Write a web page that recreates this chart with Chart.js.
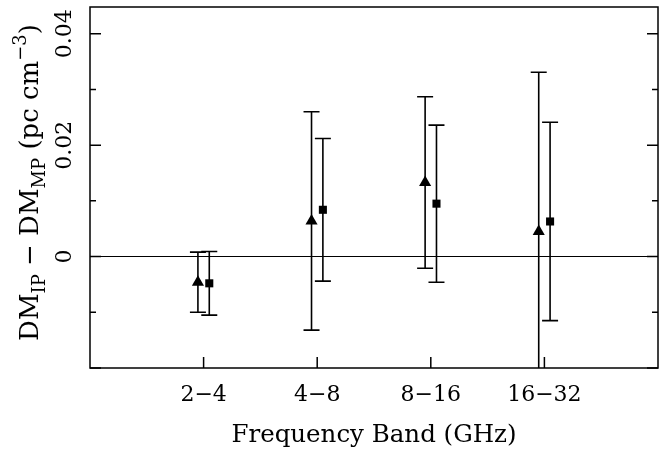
<!DOCTYPE html>
<html>
<head>
<meta charset="utf-8">
<script src="https://cdn.jsdelivr.net/npm/chart.js@4.4.1/dist/chart.umd.min.js"></script>
<style>
  html, body { margin: 0; background: #fff; }
  #wrap { width: 670px; height: 453px; }
</style>
</head>
<body>
<div id="wrap"><canvas id="dm-chart"></canvas></div>
<script>
// frequency bands and their slot on the x axis
const bands = ['2\u22124', '4\u22128', '8\u221216', '16\u221232'];
const bandPos = [1, 2, 3, 4];
const shift = 0.05;

// triangles
const triValues = [-0.0046, 0.0064, 0.0133, 0.0045];
const triErrors = [0.0054, 0.0196, 0.0154, 0.0286];
// squares
const sqValues = [-0.0048, 0.0084, 0.0095, 0.0063];
const sqErrors = [0.0057, 0.0128, 0.0141, 0.0178];

const yLabelled = [0, 0.02, 0.04];

Chart.defaults.font.family = "'DejaVu Serif', serif";
Chart.defaults.color = '#000';

function points(values, errors, dx) {
  return values.map((v, i) => ({ x: bandPos[i] + dx, y: v, err: errors[i] }));
}

const errorBars = {
  id: 'errorBars',
  beforeDatasetsDraw(chart) {
    const { ctx, chartArea, scales: { x, y } } = chart;
    ctx.save();
    ctx.beginPath();
    ctx.rect(chartArea.left, chartArea.top, chartArea.right - chartArea.left, chartArea.bottom - chartArea.top);
    ctx.clip();
    ctx.strokeStyle = '#000';
    ctx.lineWidth = 1.6;
    chart.data.datasets.forEach(ds => {
      ds.data.forEach(p => {
        const px = x.getPixelForValue(p.x);
        const top = y.getPixelForValue(p.y + p.err);
        const bot = y.getPixelForValue(p.y - p.err);
        ctx.beginPath();
        ctx.moveTo(px, top); ctx.lineTo(px, bot);
        ctx.moveTo(px - 8, top); ctx.lineTo(px + 8, top);
        ctx.moveTo(px - 8, bot); ctx.lineTo(px + 8, bot);
        ctx.stroke();
      });
    });
    ctx.restore();
  }
};

const frame = {
  id: 'frame',
  afterDraw(chart) {
    const { ctx, chartArea: a, scales: { x, y } } = chart;
    ctx.save();
    ctx.strokeStyle = '#000';
    ctx.lineWidth = 1.5;
    ctx.strokeRect(a.left, a.top, a.right - a.left, a.bottom - a.top);
    ctx.beginPath();
    bandPos.forEach(v => {
      const px = x.getPixelForValue(v);
      ctx.moveTo(px, a.bottom); ctx.lineTo(px, a.bottom - 11);
    });
    y.ticks.forEach(t => {
      const k = Math.round(t.value * 100);
      if (Math.abs(t.value * 100 - k) > 1e-6) return;
      const len = k % 2 === 0 ? 11 : 6;
      const py = y.getPixelForValue(t.value);
      ctx.moveTo(a.left, py); ctx.lineTo(a.left + len, py);
      ctx.moveTo(a.right, py); ctx.lineTo(a.right - len, py);
    });
    ctx.stroke();

    // y axis title with sub/superscripts
    const big = "26px 'DejaVu Serif'";
    const small = "18px 'DejaVu Serif'";
    const parts = [
      ['DM', big, 0], ['IP', small, 7], [' \u2212 DM', big, 0], ['MP', small, 7],
      [' (pc cm', big, 0], ['\u22123', small, -12], [')', big, 0]
    ];
    let total = 0;
    parts.forEach(p => { ctx.font = p[1]; total += ctx.measureText(p[0]).width; });
    ctx.translate(38, (a.top + a.bottom) / 2 - 5);
    ctx.rotate(-Math.PI / 2);
    ctx.fillStyle = '#000';
    ctx.textBaseline = 'alphabetic';
    let cx = -total / 2;
    parts.forEach(p => {
      ctx.font = p[1];
      ctx.fillText(p[0], cx, p[2]);
      cx += ctx.measureText(p[0]).width;
    });
    ctx.restore();
  }
};

new Chart(document.getElementById('dm-chart'), {
  type: 'scatter',
  data: {
    datasets: [
      {
        data: points(triValues, triErrors, -shift),
        pointStyle: 'triangle',
        pointRadius: 7,
        backgroundColor: '#000',
        borderColor: '#000',
        borderWidth: 0
      },
      {
        data: points(sqValues, sqErrors, shift),
        pointStyle: 'rect',
        pointRadius: 5.7,
        backgroundColor: '#000',
        borderColor: '#000',
        borderWidth: 0
      }
    ]
  },
  options: {
    responsive: true,
    maintainAspectRatio: false,
    animation: false,
    layout: { padding: { top: 1, right: 12, left: 0, bottom: 0 } },
    plugins: { legend: { display: false }, tooltip: { enabled: false } },
    scales: {
      x: {
        type: 'linear',
        min: 0,
        max: 5,
        grid: { display: false, drawTicks: false },
        border: { display: false },
        ticks: {
          stepSize: 1,
          padding: 14,
          autoSkip: false,
          font: { size: 22 },
          callback: v => {
            const i = bandPos.indexOf(v);
            return i >= 0 ? bands[i] : '';
          }
        },
        title: {
          display: true,
          text: 'Frequency Band (GHz)',
          font: { size: 24.5 },
          padding: { top: 8, bottom: 3 }
        },
        afterFit: s => { s.height = 85; s.paddingLeft = 0; s.paddingRight = 0; }
      },
      y: {
        min: -0.02,
        max: 0.0448,
        grid: {
          drawTicks: false,
          color: c => (c.tick && Math.abs(c.tick.value) < 1e-9) ? '#000' : 'rgba(0,0,0,0)',
          lineWidth: 1
        },
        border: { display: false },
        ticks: {
          stepSize: 0.01,
          includeBounds: false,
          autoSkip: false,
          minRotation: 90,
          maxRotation: 90,
          crossAlign: 'center',
          padding: 0,
          font: { size: 22 },
          callback: v => {
            const hit = yLabelled.find(t => Math.abs(t - v) < 1e-9);
            return hit === undefined ? '' : String(hit);
          }
        },
        afterFit: s => { s.width = 90; s.paddingTop = 0; s.paddingBottom = 0; }
      }
    }
  },
  plugins: [errorBars, frame]
});
</script>
</body>
</html>
